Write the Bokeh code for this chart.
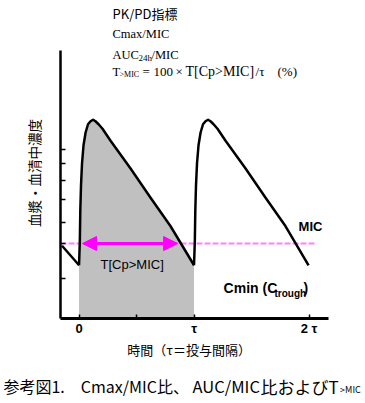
import math
from bokeh.plotting import figure
from bokeh.models import (Range1d, FixedTicker, Label, Arrow, NormalHead,
                          LinearAxis)
from bokeh.embed import file_html
from bokeh.resources import INLINE

# ---- data (time in units of tau, concentration in units of MIC) ----
predose_t = [-0.148, 0.0]
predose_c = [0.97, 0.71]

cycle1_t = [0.0, 0.007, 0.011, 0.017, 0.026, 0.039, 0.057, 0.078, 0.10, 0.122,
            0.143, 0.17, 0.204, 0.274, 0.448, 0.622, 0.796, 1.0]
cycle1_c = [0.71, 1.04, 1.44, 1.77, 2.07, 2.31, 2.48, 2.59, 2.63, 2.65,
            2.63, 2.59, 2.53, 2.37, 2.00, 1.61, 1.23, 0.71]

cycle2_t = [1.0, 1.007, 1.011, 1.017, 1.026, 1.039, 1.057, 1.078, 1.10, 1.122,
            1.143, 1.17, 1.204, 1.274, 1.448, 1.622, 1.796, 1.996]
cycle2_c = [0.71, 1.04, 1.44, 1.77, 2.07, 2.31, 2.48, 2.59, 2.63, 2.65,
            2.63, 2.59, 2.53, 2.37, 2.00, 1.61, 1.23, 0.71]

mic_level = 1.0
mic_line_t = [-0.161, 2.057]
above_mic_t = [0.03, 0.857]   # arrow T[Cp>MIC]

x_ticks = [0, 1, 2]
x_minor_ticks = [0.5]
x_tick_labels = ["0", "τ", "2 τ"]
y_ticks = [0.533, 1.0, 1.28, 1.587, 1.84, 2.067, 2.253]

x_axis_span = (-0.161, 2.170)
y_axis_span = (0.0, 3.573)

p = figure(width=365, height=403, output_backend="svg", toolbar_location=None,
           x_range=Range1d(-0.683, 2.491), y_range=Range1d(-1.133, 4.24),
           x_axis_location=None, y_axis_location=None, min_border=0,
           background_fill_color="white", border_fill_color="white")
p.outline_line_color = None
p.grid.visible = False

# axes (drawn at fixed data locations)
xaxis = LinearAxis(fixed_location=y_axis_span[0], bounds=x_axis_span,
                   ticker=FixedTicker(ticks=[], minor_ticks=x_ticks + x_minor_ticks),
                   axis_line_width=3, axis_line_color="black",
                   major_tick_in=0, major_tick_out=0,
                   minor_tick_in=4, minor_tick_out=0, minor_tick_line_width=1.5,
                   major_label_standoff=0)
yaxis = LinearAxis(fixed_location=x_axis_span[0], bounds=y_axis_span,
                   ticker=FixedTicker(ticks=[], minor_ticks=y_ticks),
                   axis_line_width=2.5, axis_line_color="black",
                   major_tick_in=0, major_tick_out=0,
                   minor_tick_in=5, minor_tick_out=0, minor_tick_line_width=1.5,
                   major_label_standoff=0)
p.add_layout(xaxis, "below")
p.add_layout(yaxis, "left")

# grey area (area under first dose curve)
p.varea(x=cycle1_t, y1=[0] * len(cycle1_t), y2=cycle1_c, fill_color="#c0c0c0")

# MIC dashed line
p.line(x=mic_line_t, y=[mic_level, mic_level], line_color="#ff80ff",
       line_width=2, line_dash="6 2")

# concentration curve
for tt, cc in ((predose_t, predose_c), (cycle1_t, cycle1_c), (cycle2_t, cycle2_c)):
    p.line(x=tt, y=cc, line_color="black", line_width=2.5, line_join="round")

# arrow
head = dict(size=14, fill_color="#ff00ff", line_color="#ff00ff")
p.add_layout(Arrow(start=NormalHead(**head), end=NormalHead(**head),
                   x_start=above_mic_t[0], y_start=mic_level,
                   x_end=above_mic_t[1], y_end=mic_level,
                   line_color="#ff00ff", line_width=3))


def lab(x, y, text, size, font="Liberation Sans", style="normal",
        align="left", baseline="middle", angle=0.0):
    p.add_layout(Label(x=x, y=y, text=text, text_font_size=size,
                       text_font=font, text_font_style=style,
                       text_align=align, text_baseline=baseline,
                       angle=angle, text_color="black"))


# x tick labels
for tv, tl in zip(x_ticks, x_tick_labels):
    lab(tv, -0.133, tl, "13px", style="bold", align="center")

# in-plot texts
lab(0.187, 0.72, "T[Cp>MIC]", "13px")
lab(2.013, 1.227, "MIC", "13px", style="bold", align="center")
lab(1.257, 0.407, "Cmin (C", "14px", style="bold")
lab(1.70, 0.333, "trough", "10px", style="bold")
lab(1.952, 0.407, ")", "14px", style="bold")

# top text block
serif = "Liberation Serif"
jp = "Noto Sans CJK JP"
lab(0.291, 4.073, "PK/PD指標", "13px", font=jp)
lab(0.291, 3.787, "Cmax/MIC", "12.5px", font=serif)
lab(0.291, 3.52, "AUC", "12.5px", font=serif)
lab(0.517, 3.467, "24h", "9px", font=serif)
lab(0.630, 3.52, "/MIC", "12.5px", font=serif)
lab(0.291, 3.293, "T", "12.5px", font=serif)
lab(0.352, 3.253, ">MIC", "8px", font=serif)
lab(0.552, 3.293, "=", "13px", font=serif)
lab(0.648, 3.293, "100", "13px", font=serif)
lab(0.839, 3.293, "×", "13px", font=serif)
lab(0.926, 3.293, "T[Cp>MIC]", "14px", font=serif)
lab(1.535, 3.293, "/τ", "13px", font=serif)
lab(1.726, 3.293, "(%)", "13px", font=serif)

# axis titles
lab(-0.396, 1.94, "血漿・血清中濃度", "13.5px", font=jp,
    align="center", angle=math.pi / 2)
lab(0.957, -0.413, "時間（τ＝投与間隔）", "13px", font=jp, align="center")

# caption
lab(-0.657, -0.9, "参考図1.　Cmax/MIC比、", "16px", font=jp)
lab(0.987, -0.9, "AUC/MIC", "16.5px", font=jp)
lab(1.578, -0.9, "比およびT", "17px", font=jp)
lab(2.270, -0.947, ">MIC", "9px", font=jp)

open("out.html", "w").write(file_html(p, INLINE))
